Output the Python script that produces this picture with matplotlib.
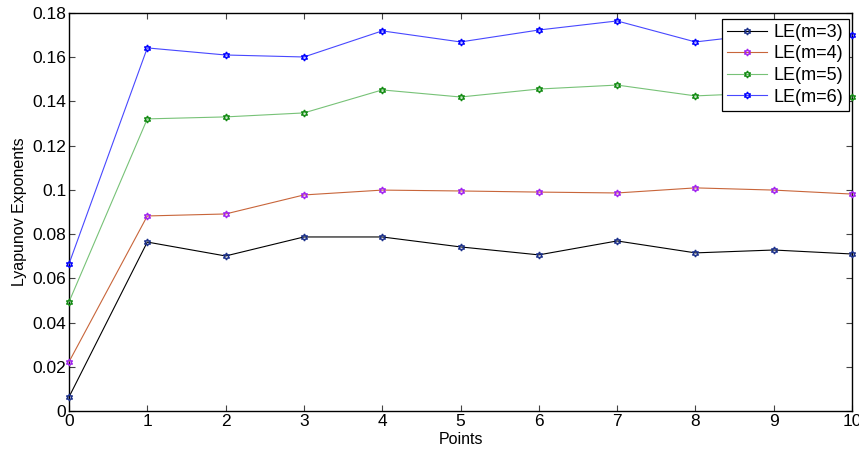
import matplotlib.pyplot as plt

plt.rcParams['font.family'] = ['Liberation Sans', 'DejaVu Sans']

points = list(range(11))
le_m3 = [0.0063, 0.0764, 0.0701, 0.0787, 0.0787, 0.0742, 0.0706, 0.0769, 0.0715, 0.0728, 0.0710]
le_m4 = [0.0222, 0.0882, 0.0891, 0.0977, 0.0999, 0.0995, 0.0990, 0.0986, 0.1009, 0.0999, 0.0981]
le_m5 = [0.0493, 0.1321, 0.1330, 0.1348, 0.1452, 0.1420, 0.1456, 0.1474, 0.1425, 0.1440, 0.1420]
le_m6 = [0.0665, 0.1642, 0.1610, 0.1601, 0.1719, 0.1669, 0.1723, 0.1764, 0.1669, 0.1710, 0.1700]
labels = ['LE(m=3)', 'LE(m=4)', 'LE(m=5)', 'LE(m=6)']

line_colors = ['black', '#c8653a', '#77c277', '#4848ff']
marker_colors = ['#1a2f8a', '#a020f0', '#118a11', '#0000ff']

fig = plt.figure(figsize=(8.59, 4.57), dpi=100)
ax = fig.add_axes([0.0803, 0.1007, 0.9116, 0.8709])

for ys, lab, lc, mc in zip([le_m3, le_m4, le_m5, le_m6], labels, line_colors, marker_colors):
    ax.plot(points, ys, color=lc, lw=0.8, marker=(6, 1, 0), ms=5,
            mfc='none', mec=mc, mew=1.0, label=lab, clip_on=False, zorder=3)

ax.set_xlim(0, 10)
ax.set_ylim(0, 0.18)
ax.set_xticks(range(11))
ax.set_yticks([0, 0.02, 0.04, 0.06, 0.08, 0.1, 0.12, 0.14, 0.16, 0.18])
ax.set_yticklabels(['0', '0.02', '0.04', '0.06', '0.08', '0.1', '0.12', '0.14', '0.16', '0.18'])
ax.tick_params(direction='in', length=4, width=0.8, color='#444444',
               top=True, right=True, labelsize=12.5, pad=2)
for sp in ax.spines.values():
    sp.set_linewidth(1.0)

ax.set_xlabel('Points', fontsize=11.5, labelpad=2)
ax.set_ylabel('Lyapunov Exponents', fontsize=11.5, labelpad=4)

leg = ax.legend(loc='upper right', bbox_to_anchor=(0.9955, 0.986), fontsize=13,
                fancybox=False, edgecolor='black', framealpha=1,
                handlelength=2.2, handletextpad=0.35, borderpad=0.3,
                labelspacing=0.25, borderaxespad=0)
leg.get_frame().set_linewidth(0.9)

fig.savefig('out.png', dpi=100)
